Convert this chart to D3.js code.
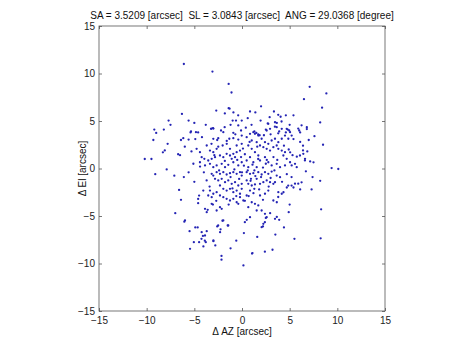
<!DOCTYPE html>
<html><head><meta charset="utf-8">
<script src="https://cdn.jsdelivr.net/npm/d3@7"></script>
<style>body{margin:0;background:#fff}svg{display:block}text{font-family:"Liberation Sans",Arial,sans-serif}</style>
</head><body><svg id="c" width="468" height="351"></svg>
<script>
const titleText = "SA = 3.5209 [arcsec]  SL = 3.0843 [arcsec]  ANG = 29.0368 [degree]";
const xLabel = "\u0394 AZ [arcsec]";
const yLabel = "\u0394 El [arcsec]";
const xTicks = [-15,-10,-5,0,5,10,15];
const yTicks = [-15,-10,-5,0,5,10,15];
const domainAZ = [-15,15];
const domainEL = [-15,15];

const outerUpperLeft = [[-6.1,11.0],[-3.1,10.2],[-1.4,8.9],[-1.1,8.0],[-1.4,6.35],[-2.7,6.1],[-6.3,5.75],[-7.7,5.05],[-5.6,5.05],[-5.0,4.8],[-7.5,4.6],[-9.2,4.1],[-8.2,4.1],[-9.0,3.75],[-5.4,3.8],[-4.6,3.8],[-3.2,4.2],[-9.3,3.0],[-6.4,3.0],[-5.6,3.05],[-4.9,3.1],[-7.8,2.6],[-8.3,1.7],[-8.1,1.9],[-6.7,1.5],[-6.5,1.4],[-10.2,1.0],[-9.5,1.0],[-5.1,0.5],[-7.9,-0.1],[-9.1,-0.6],[-7.1,-0.75],[-6.1,-0.9],[-1.3,6.3],[-0.9,5.9],[-1.8,5.8],[-3.0,4.2],[-5.3,1.8],[-6.0,2.3],[-4.2,3.3],[-3.8,4.6],[-0.4,5.6]];
const outerUpperRight = [[7.1,8.6],[8.85,7.9],[6.5,7.3],[2.0,6.55],[8.4,6.4],[3.35,6.0],[3.8,5.65],[4.05,5.45],[4.6,5.6],[5.4,5.6],[1.95,5.05],[4.15,4.95],[8.2,4.85],[2.7,4.75],[3.65,4.8],[6.25,4.55],[3.45,4.4],[2.5,4.1],[4.8,4.1],[4.95,4.0],[6.0,4.0],[6.1,3.8],[6.8,4.15],[3.8,3.7],[4.6,3.8],[5.4,3.1],[7.0,3.0],[1.3,3.9],[1.5,3.75],[1.7,3.6],[1.85,3.5],[8.5,2.5],[6.4,1.9],[6.85,1.8],[5.05,1.7],[5.75,1.25],[7.15,0.75],[7.5,0.65],[6.6,0.85],[9.4,0.05],[10.1,-0.05],[7.4,-0.9],[0.84,6.0],[5.9,4.2],[6.8,4.35],[6.1,2.8],[6.4,2.4],[0.6,5.3],[1.4,5.9],[2.9,5.4],[5.0,4.6],[7.6,3.4]];
const outerLowerRight = [[7.3,-2.2],[6.25,-1.45],[5.9,-1.6],[6.1,-2.2],[5.4,-2.0],[4.85,-1.8],[4.35,-2.5],[5.0,-3.8],[4.9,-4.6],[8.3,-4.3],[3.65,-3.55],[2.95,-4.7],[3.65,-5.1],[3.9,-5.4],[2.5,-5.2],[2.4,-5.65],[2.2,-6.1],[3.5,-6.95],[5.5,-7.4],[8.25,-7.35],[3.2,-8.55],[2.4,-8.75],[1.05,-8.95],[6.7,-0.3],[8.2,-1.3],[4.4,-6.2],[1.6,-7.2],[4.7,-2.0],[5.2,-1.8],[5.56,-1.6]];
const outerLowerLeft = [[-6.6,-2.25],[-4.5,-2.85],[-4.6,-3.2],[-4.6,-3.65],[-7.0,-4.7],[-6.05,-5.6],[-3.7,-4.6],[-3.6,-4.35],[-3.05,-3.8],[-4.9,-6.2],[-4.65,-6.2],[-3.7,-6.6],[-4.1,-7.1],[-4.25,-7.4],[-5.05,-7.75],[-4.5,-7.75],[-3.9,-7.6],[-3.8,-7.75],[-4.05,-8.2],[-5.45,-8.45],[-3.0,-7.65],[-2.6,-6.1],[-2.25,-6.4],[-2.05,-5.5],[-1.5,-6.0],[-2.3,-6.7],[-2.15,-9.2],[-2.15,-9.6],[0.15,-10.2],[1.1,-8.9],[0.5,-5.4],[0.3,-5.65],[-5.0,-1.4],[-5.6,-0.4],[-6.4,-3.3],[0.2,-6.8],[-0.6,-7.6],[-1.2,-8.4],[-2.8,-8.1],[-5.5,-6.6],[-2.5,-6.0],[-1.44,-6.0],[-4.23,-6.7],[-3.88,-7.05],[-3.0,-7.58],[-5.98,-5.47]];
const coreLowerRight = [[0.49,-0.39],[0.84,-0.56],[1.19,-0.49],[1.71,-0.39],[2.06,-0.63],[2.41,-0.39],[2.76,-0.56],[3.11,-0.32],[3.64,-0.74],[3.99,-0.91],[3.46,-1.44],[3.29,-1.61],[2.94,-1.44],[2.59,-1.26],[2.24,-1.44],[1.89,-1.61],[1.36,-1.68],[1.02,-1.79],[0.66,-1.61],[0.49,-1.26],[0.94,-1.09],[1.54,-1.09],[1.29,-2.14],[0.84,-2.32],[0.49,-2.84],[1.02,-3.55],[1.36,-3.72],[1.71,-3.89],[0.66,-4.07],[1.89,-2.84],[2.41,-2.66],[2.76,-2.32],[3.81,-2.49],[4.17,-2.66],[3.29,-3.37],[1.54,-4.42],[2.06,-4.42],[2.41,-4.77],[2.59,-5.12],[3.46,-5.3],[0.84,-5.12],[2.24,-5.82],[2.06,-6.18],[1.4,-0.8],[1.8,-2.2],[2.8,-1.9],[3.4,-0.2],[0.9,-1.3],[4.7,-0.6],[5.2,-0.9],[4.2,-1.4],[3.8,-3.0],[2.2,-3.3],[0.7,-2.9],[0.3,-3.4],[1.2,-2.6],[2.0,-0.9],[3.0,-1.0],[0.6,-0.2],[0.0,-0.4]];
const coreLowerLeft = [[-3.18,-0.56],[-3.01,-0.74],[-2.66,-0.39],[-2.31,-0.56],[-1.96,-0.39],[-1.61,-0.63],[-1.26,-0.49],[-0.91,-0.39],[-0.56,-0.56],[-0.21,-0.39],[-0.03,-0.74],[-2.83,-1.09],[-2.49,-1.26],[-2.13,-1.09],[-1.78,-1.44],[-1.44,-1.26],[-1.08,-1.61],[-0.73,-1.44],[-0.39,-1.79],[-0.03,-1.61],[-2.31,-1.79],[-1.96,-2.14],[-1.61,-2.32],[-1.26,-2.14],[-0.91,-2.49],[-0.56,-2.32],[-0.21,-2.66],[-0.03,-2.14],[-2.66,-2.49],[-3.01,-2.66],[-3.36,-2.32],[-3.54,-2.84],[-3.18,-3.02],[-2.31,-2.84],[-1.96,-3.02],[-1.61,-3.19],[-1.26,-3.37],[-0.91,-3.19],[-0.56,-3.55],[-0.39,-3.72],[-0.21,-3.02],[0.14,-3.37],[-3.71,-1.26],[-4.06,-2.32],[-3.88,-4.24],[-3.18,-3.72],[-2.66,-4.42],[-2.31,-4.07],[-2.13,-4.24],[-1.96,-5.47],[-0.8,-0.1],[-1.2,-0.9],[-0.3,-1.1],[-2.4,-0.2],[-0.6,-2.9],[-1.4,-3.8],[-2.7,-3.4],[-3.4,-1.9],[-4.0,-0.4],[-1.0,-2.1]];
const coreUpperRight = [[2.76,4.7],[3.46,4.87],[3.64,4.35],[2.94,4.18],[2.59,4.0],[4.17,4.18],[4.69,4.18],[5.04,3.82],[5.21,3.47],[4.86,3.13],[4.51,3.47],[4.17,3.13],[3.81,2.77],[3.64,2.42],[3.46,3.13],[3.11,2.95],[2.76,2.6],[2.41,2.77],[2.06,3.13],[1.71,3.47],[1.36,3.65],[1.19,3.82],[0.84,3.65],[0.49,3.3],[1.02,2.95],[1.54,2.77],[1.89,2.42],[2.24,2.24],[2.59,2.07],[2.94,1.89],[3.29,2.24],[3.81,2.07],[4.17,1.89],[4.51,1.72],[4.34,1.37],[4.69,1.02],[5.04,0.66],[5.21,0.32],[5.56,0.49],[5.74,0.14],[6.08,1.37],[6.43,1.55],[6.61,1.02],[0.66,2.42],[1.02,2.07],[1.36,1.72],[1.71,1.37],[0.84,1.19],[0.49,0.84],[1.19,0.66],[1.89,0.84],[2.41,1.19],[2.76,0.66],[3.11,0.32],[3.64,0.49],[3.99,0.14],[4.51,0.32],[1.54,0.14],[0.66,0.14],[0.2,0.3],[1.1,0.4],[2.2,0.1],[2.6,0.9],[3.3,1.2],[0.3,1.5],[0.1,2.1],[1.6,2.3],[0.4,4.3],[1.0,4.6],[2.3,3.5],[3.0,3.6],[3.9,3.9],[4.4,2.4],[4.9,2.0],[5.3,1.4],[0.8,2.8],[1.3,-0.2],[2.5,0.5],[1.7,1.0],[3.7,0.9]];
const coreUpperLeft = [[-1.33,3.13],[-0.91,3.19],[-0.39,3.05],[-3.36,1.89],[-3.01,1.72],[-4.23,1.19],[-3.95,1.02],[-3.54,0.84],[-3.18,1.02],[-2.83,1.19],[-2.31,1.37],[-1.96,1.19],[-1.61,1.55],[-1.26,1.37],[-0.91,1.55],[-0.56,1.72],[-0.21,1.89],[-4.41,0.66],[-3.88,0.32],[-3.36,0.49],[-3.01,0.14],[-2.66,0.32],[-2.13,0.49],[-1.78,0.14],[-1.44,0.39],[-0.91,0.66],[-0.39,0.32],[-0.03,0.66],[-1.08,1.02],[-0.73,1.19],[-2.03,2.42],[-0.56,2.42],[-0.03,2.6],[-1.26,2.07],[-2.66,2.07],[-4.41,1.72],[-4.76,2.07],[-0.03,3.47],[-0.39,4.53],[-0.03,5.05],[-3.25,4.18],[-3.04,4.24],[-0.98,5.05],[-0.63,5.05],[-1.82,4.35],[-1.96,3.82],[-0.91,3.76],[-0.1,4.0],[-6.16,3.19],[-2.49,3.19],[-3.01,3.12],[-1.6,2.6],[-3.7,2.42],[-2.49,2.3],[-0.5,0.9],[-1.8,0.8],[-1.6,2.9],[-0.7,3.6],[-2.2,4.0],[-1.2,4.6],[-4.4,0.2],[-3.2,2.6],[-2.6,3.0],[-0.1,1.2],[-2.9,1.4],[-5.35,3.9],[-4.83,3.82]];

const pointGroups = [outerUpperLeft, outerUpperRight, outerLowerRight, outerLowerLeft, coreLowerRight, coreLowerLeft, coreUpperRight, coreUpperLeft];
const points = pointGroups.flat();

const svg = d3.select("#c");
const m = {left: 99, right: 385, top: 26, bottom: 311};
const x = d3.scaleLinear().domain(domainAZ).range([m.left, m.right]);
const y = d3.scaleLinear().domain(domainEL).range([m.bottom, m.top]);
const axisColor = "#555";

function styleAxis(g){
  g.select(".domain").remove();
  g.selectAll(".tick line").attr("stroke", axisColor).attr("stroke-width", 0.8);
  g.selectAll(".tick text").attr("fill", "#222").attr("font-size", "10px");
}
svg.append("g").attr("transform", `translate(0,${m.bottom})`)
  .call(d3.axisBottom(x).tickValues(xTicks).tickSize(-3).tickPadding(6).tickFormat(d3.format("d")))
  .call(styleAxis);
svg.append("g").attr("transform", `translate(0,${m.top})`)
  .call(d3.axisTop(x).tickValues(xTicks).tickSize(-3).tickFormat(""))
  .call(styleAxis);
svg.append("g").attr("transform", `translate(${m.left},0)`)
  .call(d3.axisLeft(y).tickValues(yTicks).tickSize(-3).tickPadding(4).tickFormat(d3.format("d")))
  .call(styleAxis);
svg.append("g").attr("transform", `translate(${m.right},0)`)
  .call(d3.axisRight(y).tickValues(yTicks).tickSize(-3).tickFormat(""))
  .call(styleAxis);

svg.append("rect").attr("x", m.left).attr("y", m.top)
  .attr("width", m.right - m.left).attr("height", m.bottom - m.top)
  .attr("fill", "none").attr("stroke", axisColor).attr("stroke-width", 0.8);

svg.append("g").selectAll("circle").data(points).join("circle")
  .attr("cx", d => x(d[0])).attr("cy", d => y(d[1]))
  .attr("r", 1.15).attr("fill", "#2424b4");

svg.append("text").attr("x", (m.left + m.right) / 2).attr("y", 19)
  .attr("text-anchor", "middle").attr("font-size", "10px").attr("fill", "#111")
  .style("white-space", "pre").text(titleText);
svg.append("text").attr("x", (m.left + m.right) / 2).attr("y", 335)
  .attr("text-anchor", "middle").attr("font-size", "10px").attr("fill", "#111").text(xLabel);
svg.append("text").attr("transform", `translate(86,${(m.top + m.bottom) / 2}) rotate(-90)`)
  .attr("text-anchor", "middle").attr("font-size", "10px").attr("fill", "#111").text(yLabel);
</script></body></html>
